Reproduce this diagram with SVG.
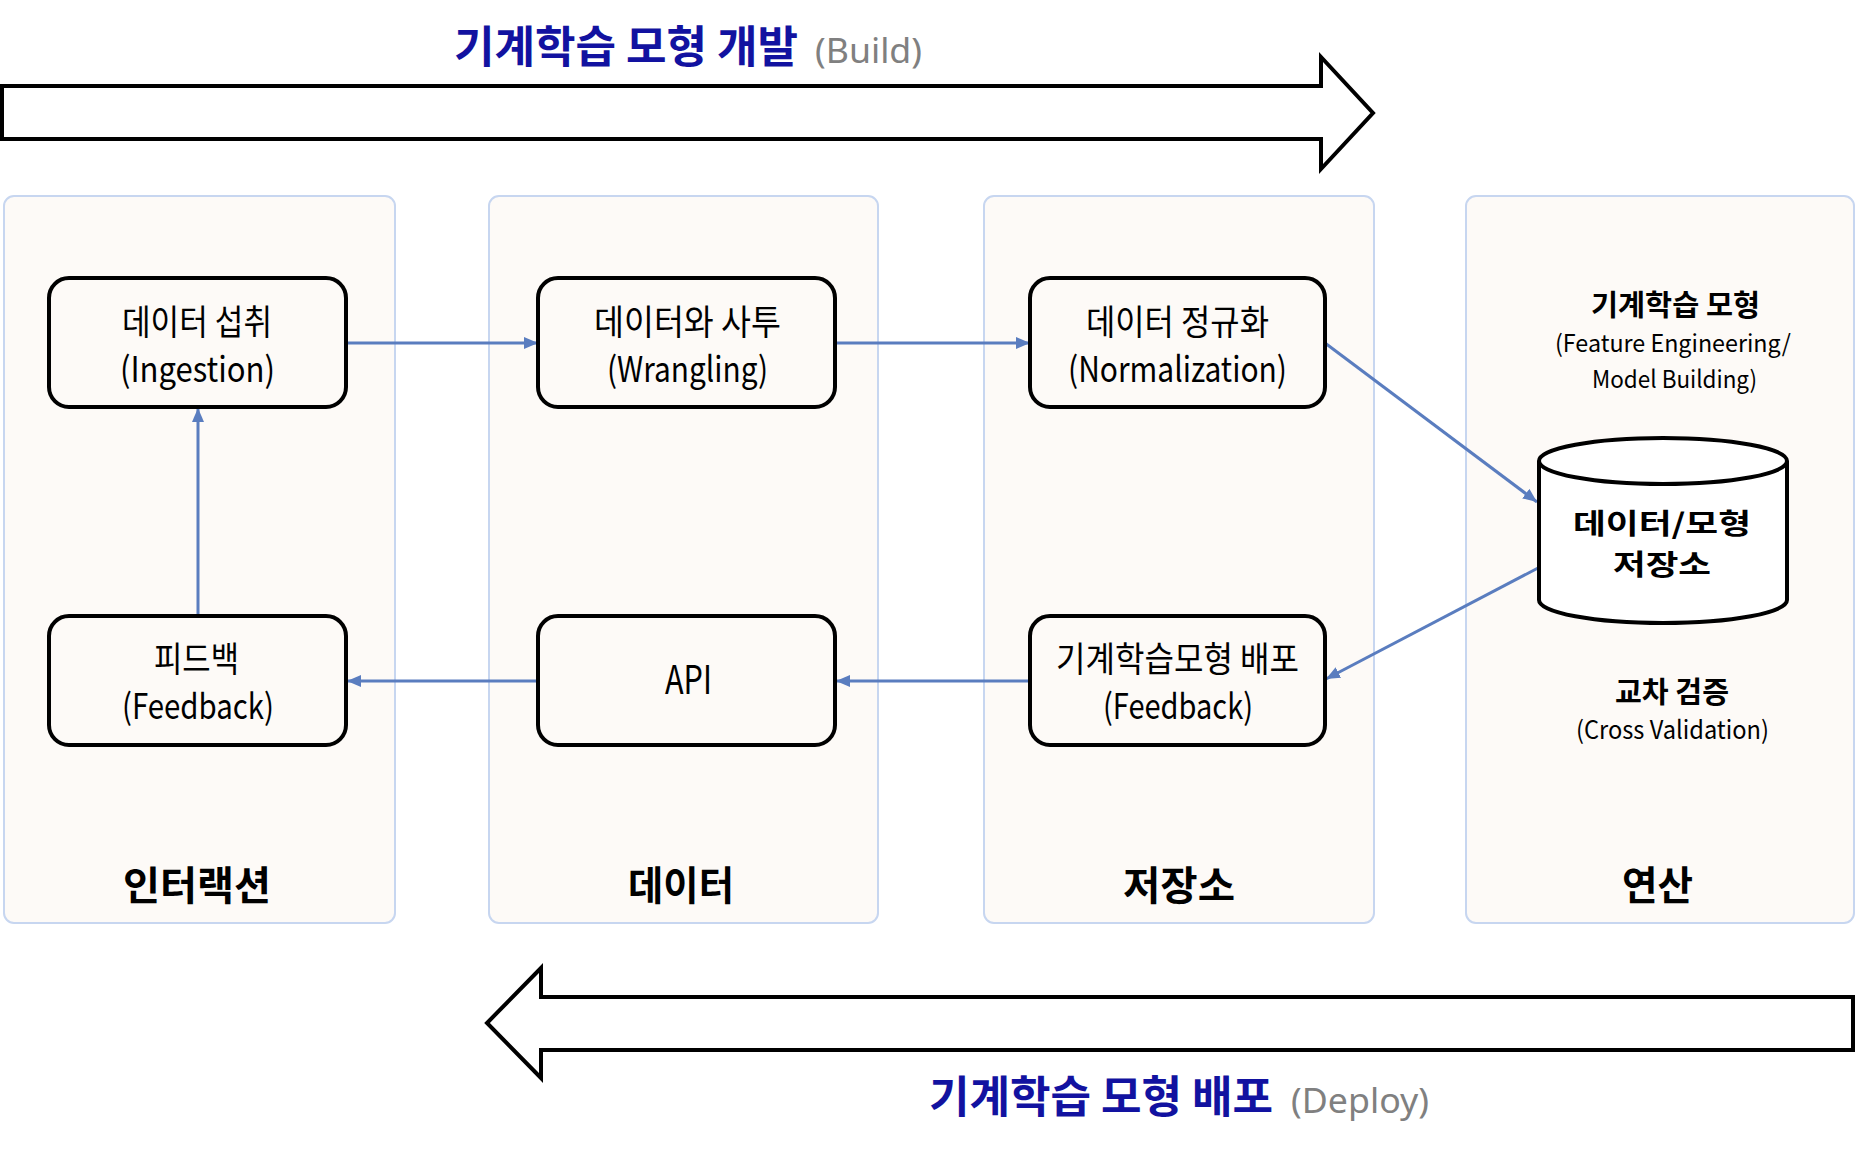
<svg xmlns="http://www.w3.org/2000/svg" width="1856" height="1158" viewBox="0 0 1856 1158">
<defs>
<style>
.lane{fill:#FDFAF7;stroke:#C7D6F0;stroke-width:2}
.node{fill:#FDFAF7;stroke:#000;stroke-width:4}
.t{font-family:"Noto Sans CJK KR","Noto Sans",sans-serif;fill:#000}
.n{font-size:35px}
.b{font-weight:bold}
.big{fill:#fff;stroke:#000;stroke-width:4;stroke-linejoin:miter}
.conn{fill:none;stroke:#5A7DBF;stroke-width:3}
.ttl{font-family:"Noto Sans CJK KR","Noto Sans",sans-serif;font-weight:bold;font-size:44px;fill:#1212A0}
.en{font-family:"Noto Sans","Noto Sans CJK KR",sans-serif;font-size:34px;fill:#808080}
</style>
<marker id="ah" markerUnits="userSpaceOnUse" markerWidth="14" markerHeight="12" refX="14" refY="6" orient="auto">
<path d="M0,0 L14,6 L0,12 z" fill="#5A7DBF"/>
</marker>
</defs>
<rect width="1856" height="1158" fill="#fff"/>

<g id="build-arrow">
<polygon class="big" points="2,86 1321,86 1321,57 1373,113 1321,169 1321,139 2,139"/>
<text class="ttl" x="454" y="63" textLength="344" lengthAdjust="spacingAndGlyphs">기계학습 모형 개발</text>
<text class="en" x="815" y="63" textLength="107" lengthAdjust="spacingAndGlyphs">(Build)</text>
</g>

<g id="lanes">
<g id="lane-interaction"><rect class="lane" x="4" y="196" width="391" height="727" rx="10"/>
<text class="t b" x="123" y="900" font-size="40" textLength="148" lengthAdjust="spacingAndGlyphs">인터랙션</text></g>
<g id="lane-data"><rect class="lane" x="489" y="196" width="389" height="727" rx="10"/>
<text class="t b" x="628" y="900" font-size="40" textLength="106" lengthAdjust="spacingAndGlyphs">데이터</text></g>
<g id="lane-storage"><rect class="lane" x="984" y="196" width="390" height="727" rx="10"/>
<text class="t b" x="1123" y="900" font-size="40" textLength="112" lengthAdjust="spacingAndGlyphs">저장소</text></g>
<g id="lane-compute"><rect class="lane" x="1466" y="196" width="388" height="727" rx="10"/>
<text class="t b" x="1622" y="900" font-size="40" textLength="71" lengthAdjust="spacingAndGlyphs">연산</text></g>
</g>

<g id="connectors">
<line class="conn" x1="347" y1="343" x2="538" y2="343" marker-end="url(#ah)"/>
<line class="conn" x1="836" y1="343" x2="1030" y2="343" marker-end="url(#ah)"/>
<line class="conn" x1="1325" y1="343" x2="1537" y2="502" marker-end="url(#ah)"/>
<line class="conn" x1="1538" y1="568" x2="1326" y2="679" marker-end="url(#ah)"/>
<line class="conn" x1="1031" y1="681" x2="836" y2="681" marker-end="url(#ah)"/>
<line class="conn" x1="538" y1="681" x2="347" y2="681" marker-end="url(#ah)"/>
<line class="conn" x1="198" y1="616" x2="198" y2="408" marker-end="url(#ah)"/>
</g>

<g id="node-ingestion">
<rect class="node" x="49" y="278" width="297" height="129" rx="20"/>
<text class="t n" x="122" y="335" textLength="150" lengthAdjust="spacingAndGlyphs">데이터 섭취</text>
<text class="t n" x="120" y="382" textLength="155" lengthAdjust="spacingAndGlyphs">(Ingestion)</text>
</g>
<g id="node-wrangling">
<rect class="node" x="538" y="278" width="297" height="129" rx="20"/>
<text class="t n" x="594" y="335" textLength="187" lengthAdjust="spacingAndGlyphs">데이터와 사투</text>
<text class="t n" x="607" y="382" textLength="161" lengthAdjust="spacingAndGlyphs">(Wrangling)</text>
</g>
<g id="node-normalization">
<rect class="node" x="1030" y="278" width="295" height="129" rx="20"/>
<text class="t n" x="1086" y="335" textLength="183" lengthAdjust="spacingAndGlyphs">데이터 정규화</text>
<text class="t n" x="1068" y="382" textLength="219" lengthAdjust="spacingAndGlyphs">(Normalization)</text>
</g>
<g id="node-feedback">
<rect class="node" x="49" y="616" width="297" height="129" rx="20"/>
<text class="t n" x="154" y="672" textLength="85" lengthAdjust="spacingAndGlyphs">피드백</text>
<text class="t n" x="122" y="719" textLength="152" lengthAdjust="spacingAndGlyphs">(Feedback)</text>
</g>
<g id="node-api">
<rect class="node" x="538" y="616" width="297" height="129" rx="20"/>
<text class="t" x="665" y="694" font-size="40" textLength="47" lengthAdjust="spacingAndGlyphs">API</text>
</g>
<g id="node-deploy">
<rect class="node" x="1030" y="616" width="295" height="129" rx="20"/>
<text class="t n" x="1056" y="672" textLength="243" lengthAdjust="spacingAndGlyphs">기계학습모형 배포</text>
<text class="t n" x="1103" y="719" textLength="150" lengthAdjust="spacingAndGlyphs">(Feedback)</text>
</g>

<g id="label-model">
<text class="t b" x="1591" y="316" font-size="29" textLength="169" lengthAdjust="spacingAndGlyphs">기계학습 모형</text>
<text class="t" x="1555" y="352" font-size="24" textLength="236" lengthAdjust="spacingAndGlyphs">(Feature Engineering/</text>
<text class="t" x="1592" y="388" font-size="24" textLength="165" lengthAdjust="spacingAndGlyphs">Model Building)</text>
</g>

<g id="node-store">
<path d="M1539,461 L1539,600 A124,23 0 0 0 1787,600 L1787,461" fill="#fff" stroke="#000" stroke-width="4"/>
<ellipse cx="1663" cy="461" rx="124" ry="23" fill="#fff" stroke="#000" stroke-width="4"/>
<text class="t b" x="1573" y="534" font-size="28" textLength="178" lengthAdjust="spacingAndGlyphs">데이터/모형</text>
<text class="t b" x="1613" y="575" font-size="28" textLength="98" lengthAdjust="spacingAndGlyphs">저장소</text>
</g>

<g id="label-cv">
<text class="t b" x="1615" y="703" font-size="29" textLength="114" lengthAdjust="spacingAndGlyphs">교차 검증</text>
<text class="t" x="1576" y="739" font-size="25" textLength="193" lengthAdjust="spacingAndGlyphs">(Cross Validation)</text>
</g>

<g id="deploy-arrow">
<polygon class="big" points="1853,997 541,997 541,968 487,1023 541,1078 541,1050 1853,1050"/>
<text class="ttl" x="929" y="1113" textLength="344" lengthAdjust="spacingAndGlyphs">기계학습 모형 배포</text>
<text class="en" x="1291" y="1113" textLength="138" lengthAdjust="spacingAndGlyphs">(Deploy)</text>
</g>
</svg>
